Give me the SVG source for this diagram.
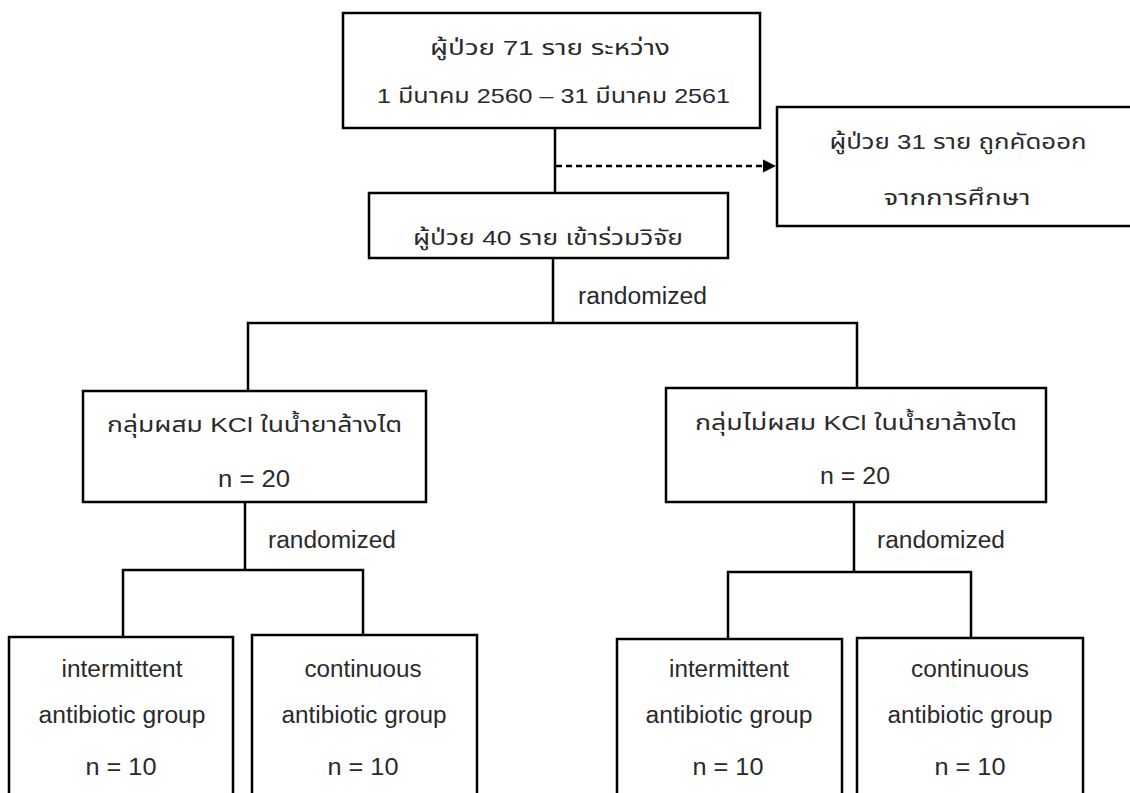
<svg xmlns="http://www.w3.org/2000/svg" width="1130" height="793" viewBox="0 0 1130 793">
<style>
.box{fill:#fff;stroke:#000;stroke-width:2.5}
.ln{fill:none;stroke:#000;stroke-width:2.5}
.dash{fill:none;stroke:#000;stroke-width:2.5;stroke-dasharray:6 4}
text{font-family:"Liberation Sans","Noto Sans Thai","Noto Sans","DejaVu Sans",sans-serif;font-size:21px;fill:#2a2a2a;text-anchor:middle}
text.en{font-size:23px}
</style>
<defs>
<marker id="arr" markerWidth="14" markerHeight="14" refX="13" refY="7" orient="auto" markerUnits="userSpaceOnUse">
<path d="M0,0.5 L13,7 L0,13.5 Z" fill="#000"/>
</marker>
</defs>
<rect width="1130" height="793" fill="#fff"/>
<g id="connectors">
<line class="ln" x1="555" y1="128" x2="555" y2="193"/>
<line class="dash" x1="556" y1="166" x2="776" y2="166" marker-end="url(#arr)"/>
<line class="ln" x1="553" y1="258" x2="553" y2="323"/>
<polyline class="ln" points="248,391 248,323 857,323 857,388"/>
<line class="ln" x1="245" y1="502" x2="245" y2="570"/>
<polyline class="ln" points="123,637 123,570 363,570 363,635"/>
<line class="ln" x1="854" y1="502" x2="854" y2="572"/>
<polyline class="ln" points="728,639 728,572 971,572 971,638"/>
<text class="en" x="642.5" y="304" textLength="129" lengthAdjust="spacingAndGlyphs">randomized</text>
<text class="en" x="332" y="548" textLength="128" lengthAdjust="spacingAndGlyphs">randomized</text>
<text class="en" x="941" y="548" textLength="128" lengthAdjust="spacingAndGlyphs">randomized</text>
</g>
<g id="n-top">
<rect class="box" x="343" y="13" width="417" height="115"/>
<text x="550" y="55" textLength="240" lengthAdjust="spacingAndGlyphs">ผู้ป่วย 71 ราย ระหว่าง</text>
<text x="553.5" y="103" textLength="353" lengthAdjust="spacingAndGlyphs">1 มีนาคม 2560 – 31 มีนาคม 2561</text>
</g>
<g id="n-excluded">
<rect class="box" x="777" y="107" width="370" height="119"/>
<text x="958" y="149" textLength="257" lengthAdjust="spacingAndGlyphs">ผู้ป่วย 31 ราย ถูกคัดออก</text>
<text x="957" y="205" textLength="147" lengthAdjust="spacingAndGlyphs">จากการศึกษา</text>
</g>
<g id="n-enrolled">
<rect class="box" x="369" y="193" width="359" height="65"/>
<text x="548" y="245" textLength="270" lengthAdjust="spacingAndGlyphs">ผู้ป่วย 40 ราย เข้าร่วมวิจัย</text>
</g>
<g id="n-kcl">
<rect class="box" x="83" y="391" width="343" height="111"/>
<text x="254.5" y="432" textLength="295" lengthAdjust="spacingAndGlyphs">กลุ่มผสม KCl ในน้ำยาล้างไต</text>
<text class="en" x="254" y="487" textLength="72" lengthAdjust="spacingAndGlyphs">n = 20</text>
</g>
<g id="n-nokcl">
<rect class="box" x="666" y="388" width="380" height="114"/>
<text x="856" y="430" textLength="322" lengthAdjust="spacingAndGlyphs">กลุ่มไม่ผสม KCl ในน้ำยาล้างไต</text>
<text class="en" x="855" y="484" textLength="70" lengthAdjust="spacingAndGlyphs">n = 20</text>
</g>
<g id="n-kcl-int">
<rect class="box" x="9" y="637" width="224" height="170"/>
<text class="en" x="122" y="677" textLength="121" lengthAdjust="spacingAndGlyphs">intermittent</text>
<text class="en" x="122" y="723" textLength="167" lengthAdjust="spacingAndGlyphs">antibiotic group</text>
<text class="en" x="121" y="775" textLength="71" lengthAdjust="spacingAndGlyphs">n = 10</text>
</g>
<g id="n-kcl-cont">
<rect class="box" x="252" y="635" width="225" height="172"/>
<text class="en" x="363" y="677" textLength="117" lengthAdjust="spacingAndGlyphs">continuous</text>
<text class="en" x="364" y="723" textLength="165" lengthAdjust="spacingAndGlyphs">antibiotic group</text>
<text class="en" x="363" y="775" textLength="71" lengthAdjust="spacingAndGlyphs">n = 10</text>
</g>
<g id="n-nokcl-int">
<rect class="box" x="617" y="639" width="225" height="168"/>
<text class="en" x="729" y="677" textLength="120" lengthAdjust="spacingAndGlyphs">intermittent</text>
<text class="en" x="729" y="723" textLength="167" lengthAdjust="spacingAndGlyphs">antibiotic group</text>
<text class="en" x="728" y="775" textLength="71" lengthAdjust="spacingAndGlyphs">n = 10</text>
</g>
<g id="n-nokcl-cont">
<rect class="box" x="857" y="638" width="226" height="169"/>
<text class="en" x="970" y="677" textLength="118" lengthAdjust="spacingAndGlyphs">continuous</text>
<text class="en" x="970" y="723" textLength="165" lengthAdjust="spacingAndGlyphs">antibiotic group</text>
<text class="en" x="970" y="775" textLength="71" lengthAdjust="spacingAndGlyphs">n = 10</text>
</g>
</svg>
